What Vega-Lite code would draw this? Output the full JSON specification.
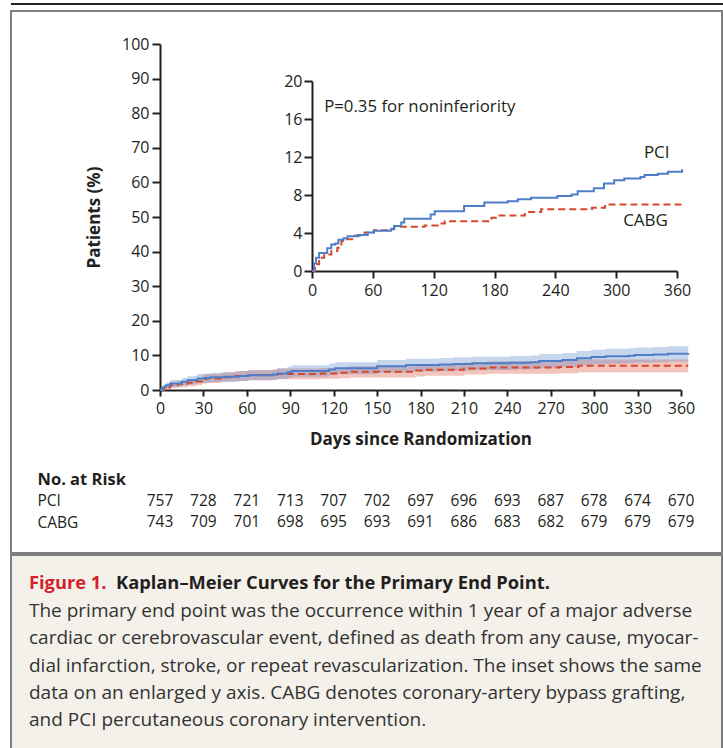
{
  "$schema": "https://vega.github.io/schema/vega-lite/v6.json",
  "padding": {"left": 10, "top": 3, "right": 0, "bottom": 0},
  "config": {
    "view": {"stroke": null},
    "font": "Open Sans",
    "axis": {"domainColor": "#231f20", "tickColor": "#231f20", "labelColor": "#231f20", "titleColor": "#231f20", "domainWidth": 2, "tickWidth": 2, "grid": false, "labelFont": "Open Sans", "titleFont": "Open Sans", "labelFlush": false, "labelOverlap": false},
    "text": {"font": "Open Sans", "color": "#231f20"}
  },
  "datasets": {
    "km": [
      {"group": "CABG", "day": 0, "pct": 0, "lo": 0, "hi": 0},
      {"group": "CABG", "day": 3, "pct": 0.7, "lo": 0.1, "hi": 1.3},
      {"group": "CABG", "day": 7, "pct": 1.4, "lo": 0.55, "hi": 2.25},
      {"group": "CABG", "day": 12, "pct": 1.75, "lo": 0.8, "hi": 2.7},
      {"group": "CABG", "day": 19, "pct": 2.1, "lo": 1.05, "hi": 3.15},
      {"group": "CABG", "day": 25, "pct": 2.45, "lo": 1.35, "hi": 3.55},
      {"group": "CABG", "day": 29, "pct": 3.15, "lo": 1.9, "hi": 4.4},
      {"group": "CABG", "day": 32, "pct": 3.35, "lo": 2.05, "hi": 4.65},
      {"group": "CABG", "day": 42, "pct": 3.7, "lo": 2.35, "hi": 5.05},
      {"group": "CABG", "day": 52, "pct": 4.05, "lo": 2.6, "hi": 5.5},
      {"group": "CABG", "day": 61, "pct": 4.3, "lo": 2.8, "hi": 5.8},
      {"group": "CABG", "day": 78, "pct": 4.4, "lo": 2.9, "hi": 5.9},
      {"group": "CABG", "day": 81, "pct": 4.65, "lo": 3.1, "hi": 6.2},
      {"group": "CABG", "day": 111, "pct": 4.8, "lo": 3.25, "hi": 6.35},
      {"group": "CABG", "day": 124, "pct": 5.0, "lo": 3.4, "hi": 6.6},
      {"group": "CABG", "day": 131, "pct": 5.25, "lo": 3.6, "hi": 6.9},
      {"group": "CABG", "day": 163, "pct": 5.25, "lo": 3.6, "hi": 6.9},
      {"group": "CABG", "day": 177, "pct": 5.6, "lo": 3.9, "hi": 7.3},
      {"group": "CABG", "day": 183, "pct": 5.85, "lo": 4.15, "hi": 7.55},
      {"group": "CABG", "day": 203, "pct": 5.85, "lo": 4.15, "hi": 7.55},
      {"group": "CABG", "day": 210, "pct": 6.2, "lo": 4.45, "hi": 7.95},
      {"group": "CABG", "day": 226, "pct": 6.5, "lo": 4.7, "hi": 8.3},
      {"group": "CABG", "day": 276, "pct": 6.65, "lo": 4.85, "hi": 8.45},
      {"group": "CABG", "day": 289, "pct": 7.0, "lo": 5.15, "hi": 8.85},
      {"group": "CABG", "day": 365, "pct": 7.0, "lo": 5.15, "hi": 8.85},
      {"group": "PCI", "day": 0, "pct": 0, "lo": 0, "hi": 0},
      {"group": "PCI", "day": 2, "pct": 0.8, "lo": 0.2, "hi": 1.4},
      {"group": "PCI", "day": 4, "pct": 1.4, "lo": 0.6, "hi": 2.2},
      {"group": "PCI", "day": 7, "pct": 1.9, "lo": 0.9, "hi": 2.9},
      {"group": "PCI", "day": 13, "pct": 1.9, "lo": 0.9, "hi": 2.9},
      {"group": "PCI", "day": 15, "pct": 2.4, "lo": 1.3, "hi": 3.5},
      {"group": "PCI", "day": 19, "pct": 2.8, "lo": 1.6, "hi": 4.0},
      {"group": "PCI", "day": 23, "pct": 2.9, "lo": 1.7, "hi": 4.1},
      {"group": "PCI", "day": 26, "pct": 3.3, "lo": 2.0, "hi": 4.6},
      {"group": "PCI", "day": 31, "pct": 3.45, "lo": 2.1, "hi": 4.8},
      {"group": "PCI", "day": 35, "pct": 3.65, "lo": 2.3, "hi": 5.0},
      {"group": "PCI", "day": 45, "pct": 3.8, "lo": 2.4, "hi": 5.2},
      {"group": "PCI", "day": 55, "pct": 4.05, "lo": 2.6, "hi": 5.5},
      {"group": "PCI", "day": 61, "pct": 4.25, "lo": 2.8, "hi": 5.7},
      {"group": "PCI", "day": 78, "pct": 4.45, "lo": 2.95, "hi": 5.95},
      {"group": "PCI", "day": 81, "pct": 4.75, "lo": 3.2, "hi": 6.3},
      {"group": "PCI", "day": 88, "pct": 5.1, "lo": 3.5, "hi": 6.7},
      {"group": "PCI", "day": 91, "pct": 5.5, "lo": 3.85, "hi": 7.15},
      {"group": "PCI", "day": 114, "pct": 5.5, "lo": 3.85, "hi": 7.15},
      {"group": "PCI", "day": 117, "pct": 5.95, "lo": 4.25, "hi": 7.65},
      {"group": "PCI", "day": 121, "pct": 6.3, "lo": 4.55, "hi": 8.05},
      {"group": "PCI", "day": 143, "pct": 6.3, "lo": 4.55, "hi": 8.05},
      {"group": "PCI", "day": 150, "pct": 6.85, "lo": 5.0, "hi": 8.7},
      {"group": "PCI", "day": 160, "pct": 6.85, "lo": 5.0, "hi": 8.7},
      {"group": "PCI", "day": 170, "pct": 7.2, "lo": 5.35, "hi": 9.05},
      {"group": "PCI", "day": 193, "pct": 7.35, "lo": 5.45, "hi": 9.25},
      {"group": "PCI", "day": 203, "pct": 7.55, "lo": 5.65, "hi": 9.45},
      {"group": "PCI", "day": 216, "pct": 7.7, "lo": 5.8, "hi": 9.6},
      {"group": "PCI", "day": 236, "pct": 7.7, "lo": 5.8, "hi": 9.6},
      {"group": "PCI", "day": 242, "pct": 7.9, "lo": 5.95, "hi": 9.85},
      {"group": "PCI", "day": 256, "pct": 8.05, "lo": 6.1, "hi": 10.0},
      {"group": "PCI", "day": 262, "pct": 8.4, "lo": 6.4, "hi": 10.4},
      {"group": "PCI", "day": 278, "pct": 8.7, "lo": 6.7, "hi": 10.7},
      {"group": "PCI", "day": 288, "pct": 9.2, "lo": 7.1, "hi": 11.3},
      {"group": "PCI", "day": 298, "pct": 9.55, "lo": 7.45, "hi": 11.65},
      {"group": "PCI", "day": 308, "pct": 9.75, "lo": 7.6, "hi": 11.9},
      {"group": "PCI", "day": 324, "pct": 9.9, "lo": 7.75, "hi": 12.05},
      {"group": "PCI", "day": 328, "pct": 10.1, "lo": 7.95, "hi": 12.25},
      {"group": "PCI", "day": 341, "pct": 10.25, "lo": 8.05, "hi": 12.45},
      {"group": "PCI", "day": 351, "pct": 10.45, "lo": 8.25, "hi": 12.65},
      {"group": "PCI", "day": 365, "pct": 10.7, "lo": 8.45, "hi": 12.95}
    ],
    "risk": [
      {"row": "PCI", "day": 0, "n": 757}, {"row": "PCI", "day": 30, "n": 728}, {"row": "PCI", "day": 60, "n": 721}, {"row": "PCI", "day": 90, "n": 713}, {"row": "PCI", "day": 120, "n": 707}, {"row": "PCI", "day": 150, "n": 702}, {"row": "PCI", "day": 180, "n": 697}, {"row": "PCI", "day": 210, "n": 696}, {"row": "PCI", "day": 240, "n": 693}, {"row": "PCI", "day": 270, "n": 687}, {"row": "PCI", "day": 300, "n": 678}, {"row": "PCI", "day": 330, "n": 674}, {"row": "PCI", "day": 360, "n": 670},
      {"row": "CABG", "day": 0, "n": 743}, {"row": "CABG", "day": 30, "n": 709}, {"row": "CABG", "day": 60, "n": 701}, {"row": "CABG", "day": 90, "n": 698}, {"row": "CABG", "day": 120, "n": 695}, {"row": "CABG", "day": 150, "n": 693}, {"row": "CABG", "day": 180, "n": 691}, {"row": "CABG", "day": 210, "n": 686}, {"row": "CABG", "day": 240, "n": 683}, {"row": "CABG", "day": 270, "n": 682}, {"row": "CABG", "day": 300, "n": 679}, {"row": "CABG", "day": 330, "n": 679}, {"row": "CABG", "day": 360, "n": 679}
    ],
    "caption": [
      {"line": 0, "part": "fig", "text": "Figure 1."},
      {"line": 0, "part": "head", "text": "Kaplan\u2013Meier Curves for the Primary End Point."},
      {"line": 1, "part": "body", "text": "The primary end point was the occurrence within 1 year of a major adverse"},
      {"line": 2, "part": "body", "text": "cardiac or cerebrovascular event, defined as death from any cause, myocar-"},
      {"line": 3, "part": "body", "text": "dial infarction, stroke, or repeat revascularization. The inset shows the same"},
      {"line": 4, "part": "body", "text": "data on an enlarged y axis. CABG denotes coronary-artery bypass grafting,"},
      {"line": 5, "part": "body", "text": "and PCI percutaneous coronary intervention."}
    ]
  },
  "spacing": 5,
  "vconcat": [
    {
      "width": 713,
      "height": 2,
      "view": {"fill": "#231f20", "stroke": null},
      "data": {"values": []},
      "mark": "text",
      "encoding": {}
    },
    {
      "spacing": 0,
      "vconcat": [
        {
          "width": 711,
          "height": 542,
          "view": {"stroke": "#7f7f7f", "strokeWidth": 2},
          "resolve": {"scale": {"x": "independent", "y": "independent", "color": "shared", "strokeDash": "shared"}},
          "layer": [
            {
              "data": {"name": "km"},
              "mark": {"type": "area", "interpolate": "step-after", "opacity": 0.32},
              "encoding": {
                "x": {"field": "day", "type": "quantitative", "scale": {"domain": [0, 360], "range": [149, 670], "nice": false}, "axis": null},
                "y": {"field": "lo", "type": "quantitative", "scale": {"domain": [0, 100], "range": [379, 33], "nice": false}, "axis": null},
                "y2": {"field": "hi"},
                "color": {"field": "group", "type": "nominal", "scale": {"domain": ["PCI", "CABG"], "range": ["#4f7ec8", "#d9472b"]}, "legend": null}
              }
            },
            {
              "data": {"name": "km"},
              "mark": {"type": "line", "interpolate": "step-after", "strokeWidth": 2},
              "encoding": {
                "x": {"field": "day", "type": "quantitative", "title": "Days since Randomization", "scale": {"domain": [0, 360], "range": [149, 670], "nice": false},
                  "axis": {"orient": "bottom", "offset": -163, "values": [0, 30, 60, 90, 120, 150, 180, 210, 240, 270, 300, 330, 360], "tickSize": 6, "labelPadding": 4, "labelFontSize": 16, "titleFontSize": 17, "titleFontWeight": "bold", "titlePadding": 15}},
                "y": {"field": "pct", "type": "quantitative", "title": "Patients (%)", "scale": {"domain": [0, 100], "range": [379, 33], "nice": false},
                  "axis": {"orient": "left", "offset": -149, "values": [0, 10, 20, 30, 40, 50, 60, 70, 80, 90, 100], "tickSize": 8, "labelPadding": 3, "labelFontSize": 16, "titleFontSize": 17, "titleFontWeight": "bold", "titlePadding": 18}},
                "color": {"field": "group", "type": "nominal", "legend": null},
                "strokeDash": {"field": "group", "type": "nominal", "scale": {"domain": ["PCI", "CABG"], "range": [[1, 0], [7, 4]]}, "legend": null}
              }
            },
            {
              "data": {"name": "km"},
              "mark": {"type": "line", "interpolate": "step-after", "strokeWidth": 2},
              "encoding": {
                "x": {"field": "day", "type": "quantitative", "title": null, "scale": {"domain": [0, 360], "range": [301, 666], "nice": false},
                  "axis": {"orient": "bottom", "offset": -282, "values": [0, 60, 120, 180, 240, 300, 360], "tickSize": 7, "labelPadding": 4, "labelFontSize": 16}},
                "y": {"field": "pct", "type": "quantitative", "title": null, "scale": {"domain": [0, 20], "range": [260, 70], "nice": false},
                  "axis": {"orient": "left", "offset": -301, "values": [0, 4, 8, 12, 16, 20], "tickSize": 8, "labelPadding": 2, "labelFontSize": 16}},
                "color": {"field": "group", "type": "nominal", "legend": null},
                "strokeDash": {"field": "group", "type": "nominal", "legend": null}
              }
            },
            {
              "data": {"values": [{"day": 12, "pct": 17.3, "label": "P=0.35 for noninferiority"}]},
              "mark": {"type": "text", "align": "left", "baseline": "middle", "fontSize": 16.8},
              "encoding": {
                "x": {"field": "day", "type": "quantitative", "scale": {"domain": [0, 360], "range": [301, 666], "nice": false}, "axis": null},
                "y": {"field": "pct", "type": "quantitative", "scale": {"domain": [0, 20], "range": [260, 70], "nice": false}, "axis": null},
                "text": {"field": "label"}
              }
            },
            {
              "data": {"values": [{"day": 340, "pct": 12.4, "label": "PCI"}, {"day": 329, "pct": 5.25, "label": "CABG"}]},
              "mark": {"type": "text", "align": "center", "baseline": "middle", "fontSize": 17},
              "encoding": {
                "x": {"field": "day", "type": "quantitative", "scale": {"domain": [0, 360], "range": [301, 666], "nice": false}, "axis": null},
                "y": {"field": "pct", "type": "quantitative", "scale": {"domain": [0, 20], "range": [260, 70], "nice": false}, "axis": null},
                "text": {"field": "label"}
              }
            },
            {
              "data": {"name": "risk"},
              "mark": {"type": "text", "align": "center", "baseline": "middle", "fontSize": 15.5},
              "encoding": {
                "x": {"field": "day", "type": "quantitative", "scale": {"domain": [0, 360], "range": [149, 670], "nice": false}, "axis": null},
                "y": {"field": "row", "type": "ordinal", "title": null, "scale": {"type": "point", "domain": ["No. at Risk", "PCI", "CABG"], "range": [468, 511], "padding": 0},
                  "axis": {"orient": "left", "offset": -26, "domain": false, "ticks": false, "tickSize": 0, "labelPadding": 0, "labelAlign": "left", "labelBaseline": "middle", "labelColor": "#231f20",
                    "labelFontSize": {"condition": {"test": "datum.value === 'No. at Risk'", "value": 16.5}, "value": 15.5},
                    "labelFontWeight": {"condition": {"test": "datum.value === 'No. at Risk'", "value": "bold"}, "value": "normal"}}},
                "text": {"field": "n", "type": "quantitative"}
              }
            }
          ]
        },
        {
          "width": 711,
          "height": 194,
          "view": {"fill": "#f4f1ea", "stroke": "#7f7f7f", "strokeWidth": 2},
          "data": {"name": "caption"},
          "layer": [
            {
              "transform": [{"filter": "datum.part === 'fig'"}],
              "mark": {"type": "text", "align": "left", "baseline": "middle", "fontSize": 18.3, "fontWeight": "bold", "color": "#d2232a"},
              "encoding": {
                "x": {"value": 18},
                "y": {"field": "line", "type": "ordinal", "scale": {"type": "point", "domain": [0, 1, 2, 3, 4, 5], "range": [29, 165], "padding": 0}, "axis": null},
                "text": {"field": "text"}
              }
            },
            {
              "transform": [{"filter": "datum.part === 'head'"}],
              "mark": {"type": "text", "align": "left", "baseline": "middle", "fontSize": 18.3, "fontWeight": "bold", "color": "#231f20"},
              "encoding": {
                "x": {"value": 105},
                "y": {"field": "line", "type": "ordinal", "axis": null},
                "text": {"field": "text"}
              }
            },
            {
              "transform": [{"filter": "datum.part === 'body'"}],
              "mark": {"type": "text", "align": "left", "baseline": "middle", "fontSize": 19, "color": "#333333"},
              "encoding": {
                "x": {"value": 18},
                "y": {"field": "line", "type": "ordinal", "axis": null},
                "text": {"field": "text"}
              }
            }
          ]
        }
      ]
    }
  ]
}
